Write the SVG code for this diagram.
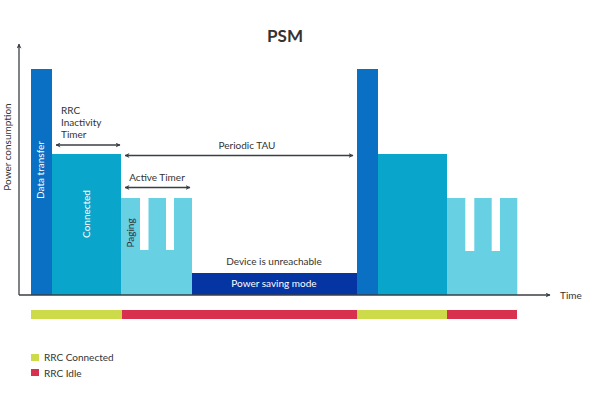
<svg xmlns="http://www.w3.org/2000/svg" width="600" height="395" viewBox="0 0 600 395">
<defs>
<marker id="ah" viewBox="0 0 10 10" refX="9" refY="5" markerWidth="5" markerHeight="5" orient="auto-start-reverse" markerUnits="userSpaceOnUse"><path d="M0,0 L10,5 L0,10 L3,5 Z" fill="#3a3f45"/></marker>
<style>
text{font-family:Lato,"Liberation Sans",sans-serif;fill:#333;font-size:10px}
.w{fill:#fff}
.dt{fill:#0a70c4}.cn{fill:#0aa5cb}.pg{fill:#68d0e3}.ps{fill:#0534a3}
.g{fill:#cddb4b}.r{fill:#d8314f}
.ax{stroke:#3a3f45;stroke-width:1.3;fill:none}
.ar{stroke:#3a3f45;stroke-width:1.3;fill:none;marker-start:url(#ah);marker-end:url(#ah)}
</style>
</defs>
<rect width="600" height="395" fill="#fff"/>
<text x="285" y="42" text-anchor="middle" style="font-size:17px;font-weight:bold">PSM</text>
<g id="bars1">
<g id="data-transfer-1"><rect class="dt" x="31" y="69" width="21" height="226"/><text class="w" transform="translate(44,170) rotate(-90)" text-anchor="middle">Data transfer</text></g>
<g id="connected-1"><rect class="cn" x="52" y="154" width="69" height="141"/><text class="w" transform="translate(90,214) rotate(-90)" text-anchor="middle">Connected</text></g>
<g id="paging-1"><path class="pg" d="M121,198 H140 V250 H148.5 V198 H166 V250 H174 V198 H192 V295 H121 Z"/><text transform="translate(134,233) rotate(-90)" text-anchor="middle">Paging</text></g>
<g id="power-saving"><rect class="ps" x="192" y="273" width="165" height="22"/><text class="w" x="274" y="287" text-anchor="middle">Power saving mode</text><text x="274" y="265" text-anchor="middle">Device is unreachable</text></g>
</g>
<g id="bars2">
<g id="data-transfer-2"><rect class="dt" x="357" y="69" width="21" height="226"/></g>
<g id="connected-2"><rect class="cn" x="378" y="154" width="69" height="141"/></g>
<g id="paging-2"><path class="pg" d="M447,198 H465.3 V251 H474.3 V198 H491.7 V251 H500 V198 H517.3 V295 H447 Z"/></g>
</g>
<g id="connectors">
<path class="ax" d="M19,295 V44" marker-end="url(#ah)"/>
<path class="ax" d="M19,295 H550" marker-end="url(#ah)"/>
<path class="ar" d="M56,145 H120"/>
<path class="ar" d="M125,155.5 H353"/>
<path class="ar" d="M125,187.5 H190"/>
</g>
<g id="labels">
<text transform="translate(11,147) rotate(-90)" text-anchor="middle">Power consumption</text>
<text x="560" y="299">Time</text>
<text x="61" y="114">RRC</text>
<text x="61" y="126">Inactivity</text>
<text x="61" y="138">Timer</text>
<text x="247" y="149" text-anchor="middle">Periodic TAU</text>
<text x="157" y="181" text-anchor="middle">Active Timer</text>
</g>
<g id="state-bar">
<rect class="g" x="31" y="310" width="91" height="9"/>
<rect class="r" x="122" y="310" width="235" height="9"/>
<rect class="g" x="357" y="310" width="90" height="9"/>
<rect class="r" x="447" y="310" width="70" height="9"/>
</g>
<g id="legend">
<rect class="g" x="31" y="354" width="8" height="7"/><text x="44" y="361">RRC Connected</text>
<rect class="r" x="31" y="369" width="8" height="7"/><text x="44" y="377">RRC Idle</text>
</g>
</svg>
